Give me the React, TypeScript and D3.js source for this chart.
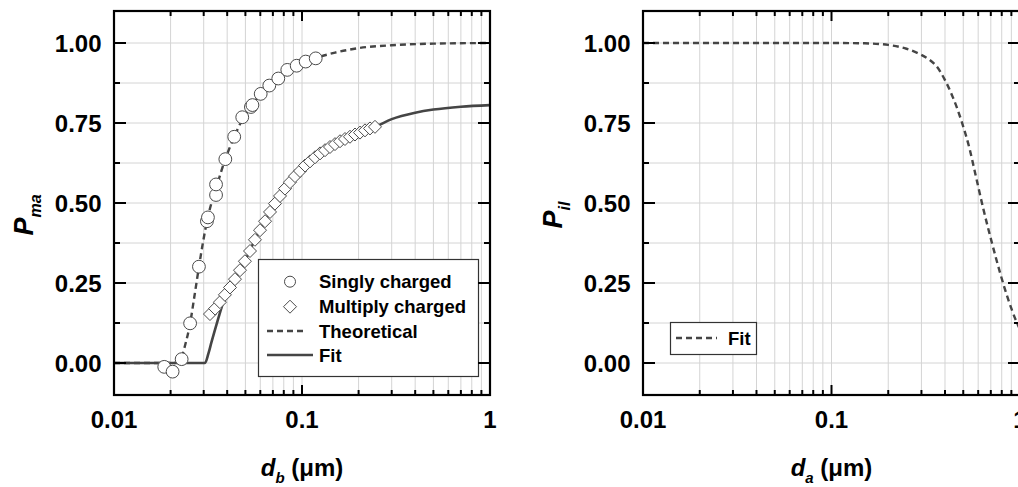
import React from 'react';
import * as d3 from 'd3';

// ---------- data ----------
const SINGLY_D = [0.0185, 0.0205, 0.0229, 0.0254, 0.0283, 0.0312, 0.0316, 0.0349, 0.0349, 0.0391, 0.0436, 0.0481, 0.0535, 0.0545, 0.0603, 0.067, 0.0748, 0.0835, 0.0937, 0.1046, 0.1183];
const SINGLY_P = [-0.012, -0.027, 0.012, 0.124, 0.301, 0.443, 0.455, 0.525, 0.558, 0.637, 0.707, 0.768, 0.8, 0.806, 0.841, 0.867, 0.889, 0.916, 0.929, 0.942, 0.952];

const MULTI_D = [0.0324, 0.0345, 0.0366, 0.0389, 0.0414, 0.044, 0.0468, 0.0497, 0.0529, 0.0562, 0.0598, 0.0636, 0.0676, 0.0718, 0.0764, 0.0812, 0.0863, 0.0918, 0.0976, 0.1038, 0.1103, 0.1173, 0.1247, 0.1326, 0.1409, 0.1498, 0.1593, 0.1693, 0.18, 0.1914, 0.2035, 0.2163, 0.23, 0.2445];
const MULTI_P = [0.153, 0.17, 0.19, 0.213, 0.236, 0.262, 0.29, 0.318, 0.35, 0.385, 0.415, 0.443, 0.472, 0.498, 0.522, 0.545, 0.565, 0.584, 0.6, 0.617, 0.63, 0.643, 0.655, 0.665, 0.675, 0.684, 0.693, 0.7, 0.707, 0.714, 0.72, 0.727, 0.733, 0.738];

const THEO_D = [0.01, 0.021, 0.0225, 0.024, 0.0254, 0.0268, 0.0283, 0.0298, 0.0314, 0.033, 0.0349, 0.037, 0.0391, 0.0436, 0.0481, 0.054, 0.0603, 0.067, 0.0748, 0.0835, 0.0937, 0.1046, 0.1183, 0.15, 0.2, 0.3, 0.5, 1.0];
const THEO_P = [0, 0, 0.01, 0.06, 0.124, 0.21, 0.3, 0.38, 0.45, 0.5, 0.545, 0.595, 0.637, 0.707, 0.76, 0.805, 0.84, 0.867, 0.891, 0.912, 0.929, 0.942, 0.953, 0.97, 0.984, 0.993, 0.998, 1.0];

const FIT_D = [0.01, 0.0305, 0.0318, 0.033, 0.0345, 0.0359, 0.0389, 0.044, 0.0497, 0.0562, 0.0636, 0.0718, 0.0812, 0.0918, 0.1038, 0.1173, 0.1326, 0.1498, 0.1693, 0.1914, 0.2163, 0.2445, 0.3, 0.4, 0.5, 0.7, 1.0];
const FIT_P = [0, 0, 0.03, 0.065, 0.105, 0.14, 0.205, 0.262, 0.318, 0.385, 0.443, 0.498, 0.545, 0.584, 0.617, 0.643, 0.665, 0.684, 0.7, 0.714, 0.727, 0.738, 0.762, 0.782, 0.792, 0.801, 0.806];

const IL_D = [0.01, 0.05, 0.1, 0.15, 0.2, 0.25, 0.29, 0.33, 0.36, 0.4, 0.44, 0.49, 0.54, 0.58, 0.64, 0.71, 0.79, 0.87, 0.95, 1.0];
const IL_P = [1.0, 1.0, 1.0, 0.999, 0.994, 0.982, 0.967, 0.948, 0.928, 0.884, 0.831, 0.755, 0.67, 0.59, 0.48, 0.375, 0.275, 0.195, 0.134, 0.105];

const X_TICKS = [0.01, 0.1, 1];
const X_TICK_LABELS = ['0.01', '0.1', '1'];
const Y_TICKS = [0, 0.25, 0.5, 0.75, 1.0];
const Y_TICK_LABELS = ['0.00', '0.25', '0.50', '0.75', '1.00'];
const Y_MINOR = [0.125, 0.375, 0.625, 0.875];

const FONT = "'Liberation Sans', Arial, Helvetica, sans-serif";
const LINE_COLOR = '#454545';
const GRID_COLOR = '#d4d4d4';

const MINOR_X: number[] = [];
[0.01, 0.1].forEach((dec) => {
  for (let k = 2; k <= 9; k++) MINOR_X.push(+(k * dec).toFixed(4));
});

type PanelProps = {
  left: number;
  right: number;
  yTitleMain: string;
  yTitleSub: string;
  xTitleSub: string;
  children: (x: d3.ScaleLogarithmic<number, number>, y: d3.ScaleLinear<number, number>) => React.ReactNode;
};

const TOP = 11;
const BOTTOM = 395;

function Panel({ left, right, yTitleMain, yTitleSub, xTitleSub, children }: PanelProps) {
  const x = d3.scaleLog().domain([0.01, 1]).range([left, right]);
  const y = d3.scaleLinear().domain([-0.1, 1.1]).range([BOTTOM, TOP]);
  const gridX = [...MINOR_X, 0.1];
  const gridY = d3.range(0, 9).map((i) => i * 0.125);
  const cx = (left + right) / 2;
  return (
    <g>
      {gridX.map((v) => (
        <line key={'gx' + v} x1={x(v)} x2={x(v)} y1={TOP} y2={BOTTOM} stroke={GRID_COLOR} strokeWidth={1} />
      ))}
      {gridY.map((v) => (
        <line key={'gy' + v} x1={left} x2={right} y1={y(v)} y2={y(v)} stroke={GRID_COLOR} strokeWidth={1} />
      ))}
      {children(x, y)}
      <rect x={left} y={TOP} width={right - left} height={BOTTOM - TOP} fill="none" stroke="#000" strokeWidth={2.2} />
      {X_TICKS.map((v) => (
        <g key={'xt' + v}>
          <line x1={x(v)} x2={x(v)} y1={BOTTOM} y2={BOTTOM - 10} stroke="#000" strokeWidth={2} />
          <line x1={x(v)} x2={x(v)} y1={TOP} y2={TOP + 10} stroke="#000" strokeWidth={2} />
        </g>
      ))}
      {MINOR_X.map((v) => (
        <g key={'xm' + v}>
          <line x1={x(v)} x2={x(v)} y1={BOTTOM} y2={BOTTOM - 5} stroke="#000" strokeWidth={2} />
          <line x1={x(v)} x2={x(v)} y1={TOP} y2={TOP + 5} stroke="#000" strokeWidth={2} />
        </g>
      ))}
      {Y_TICKS.map((v) => (
        <g key={'yt' + v}>
          <line x1={left} x2={left + 12} y1={y(v)} y2={y(v)} stroke="#000" strokeWidth={2} />
          <line x1={right} x2={right - 12} y1={y(v)} y2={y(v)} stroke="#000" strokeWidth={2} />
        </g>
      ))}
      {Y_MINOR.map((v) => (
        <g key={'ym' + v}>
          <line x1={left} x2={left + 6} y1={y(v)} y2={y(v)} stroke="#000" strokeWidth={2} />
          <line x1={right} x2={right - 6} y1={y(v)} y2={y(v)} stroke="#000" strokeWidth={2} />
        </g>
      ))}
      {X_TICKS.map((v, i) => (
        <text key={'xl' + v} x={x(v)} y={428} textAnchor="middle" fontFamily={FONT} fontWeight="bold" fontSize={24} fill="#000">
          {X_TICK_LABELS[i]}
        </text>
      ))}
      {Y_TICKS.map((v, i) => (
        <text key={'yl' + v} x={left - 12.5} y={y(v)} dy="0.36em" textAnchor="end" fontFamily={FONT} fontWeight="bold" fontSize={24} fill="#000">
          {Y_TICK_LABELS[i]}
        </text>
      ))}
      <text x={cx} y={476} textAnchor="middle" fontFamily={FONT} fontWeight="bold" fontSize={24} fill="#000">
        <tspan fontStyle="italic">d</tspan>
        <tspan fontStyle="italic" fontSize={15} dy={7}>{xTitleSub}</tspan>
        <tspan dy={-7}> (μm)</tspan>
      </text>
      <text transform={`translate(${left - 81}, ${(TOP + BOTTOM) / 2 + 12}) rotate(-90)`} textAnchor="middle" fontFamily={FONT} fontWeight="bold" fontSize={27} fill="#000">
        <tspan fontStyle="italic">{yTitleMain}</tspan>
        <tspan fontStyle="italic" fontSize={16} dy={8}>{yTitleSub}</tspan>
      </text>
    </g>
  );
}

function mkLine(x: any, y: any, ds: number[], ps: number[]) {
  const pts = ds.map((d, i) => [d, ps[i]] as [number, number]);
  return d3
    .line<[number, number]>()
    .x((p) => x(p[0]))
    .y((p) => y(p[1]))
    .curve(d3.curveMonotoneX)(pts) as string;
}

const DIAMOND = 'M0,-6.5L6.5,0L0,6.5L-6.5,0Z';

export default function App() {
  return (
    <svg width={1018} height={487} style={{ position: 'absolute', left: 0, top: 0, background: '#fff' }}>
      <defs>
        <clipPath id="clipL">
          <rect x={114} y={11} width={376} height={384} />
        </clipPath>
        <clipPath id="clipR">
          <rect x={643} y={11} width={377} height={384} />
        </clipPath>
      </defs>
      <rect x={0} y={0} width={1018} height={487} fill="#fff" />
      <Panel left={114} right={490} yTitleMain="P" yTitleSub="ma" xTitleSub="b">
        {(x, y) => (
          <g>
            <g clipPath="url(#clipL)">
              <path d={mkLine(x, y, THEO_D, THEO_P)} fill="none" stroke={LINE_COLOR} strokeWidth={2.4} strokeDasharray="6,4" />
              <path d={mkLine(x, y, FIT_D, FIT_P)} fill="none" stroke={LINE_COLOR} strokeWidth={2.6} />
            </g>
            {MULTI_D.map((d, i) => (
              <path key={'m' + i} d={DIAMOND} transform={`translate(${x(d)},${y(MULTI_P[i])})`} fill="#fff" stroke="#4a4a4a" strokeWidth={1} />
            ))}
            {SINGLY_D.map((d, i) => (
              <circle key={'s' + i} cx={x(d)} cy={y(SINGLY_P[i])} r={6.4} fill="#fff" stroke="#4a4a4a" strokeWidth={1} />
            ))}
            <rect x={258.5} y={259.5} width={220} height={117} fill="#fff" stroke="#333" strokeWidth={1.2} />
            <circle cx={290} cy={281.7} r={5.5} fill="#fff" stroke="#4a4a4a" strokeWidth={1} />
            <path d={DIAMOND} transform="translate(290,306.7)" fill="#fff" stroke="#4a4a4a" strokeWidth={1} />
            <line x1={267} x2={307} y1={331} y2={331} stroke={LINE_COLOR} strokeWidth={2.4} strokeDasharray="6,4" />
            <line x1={267} x2={313} y1={355} y2={355} stroke={LINE_COLOR} strokeWidth={2.6} />
            {['Singly charged', 'Multiply charged', 'Theoretical', 'Fit'].map((t, i) => (
              <text key={t} x={319} y={[281.7, 306.7, 331, 355][i] + 6.5} fontFamily={FONT} fontWeight="bold" fontSize={18.5} fill="#000">
                {t}
              </text>
            ))}
          </g>
        )}
      </Panel>
      <Panel left={643} right={1020} yTitleMain="P" yTitleSub="il" xTitleSub="a">
        {(x, y) => (
          <g>
            <g clipPath="url(#clipR)">
              <path d={mkLine(x, y, IL_D, IL_P)} fill="none" stroke={LINE_COLOR} strokeWidth={2.4} strokeDasharray="6,4" />
            </g>
            <rect x={670.5} y={322.5} width={86} height={32} fill="#fff" stroke="#333" strokeWidth={1.2} />
            <line x1={676} x2={717} y1={338} y2={338} stroke={LINE_COLOR} strokeWidth={2.4} strokeDasharray="6,4" />
            <text x={728} y={344.5} fontFamily={FONT} fontWeight="bold" fontSize={18.5} fill="#000">
              Fit
            </text>
          </g>
        )}
      </Panel>
    </svg>
  );
}
